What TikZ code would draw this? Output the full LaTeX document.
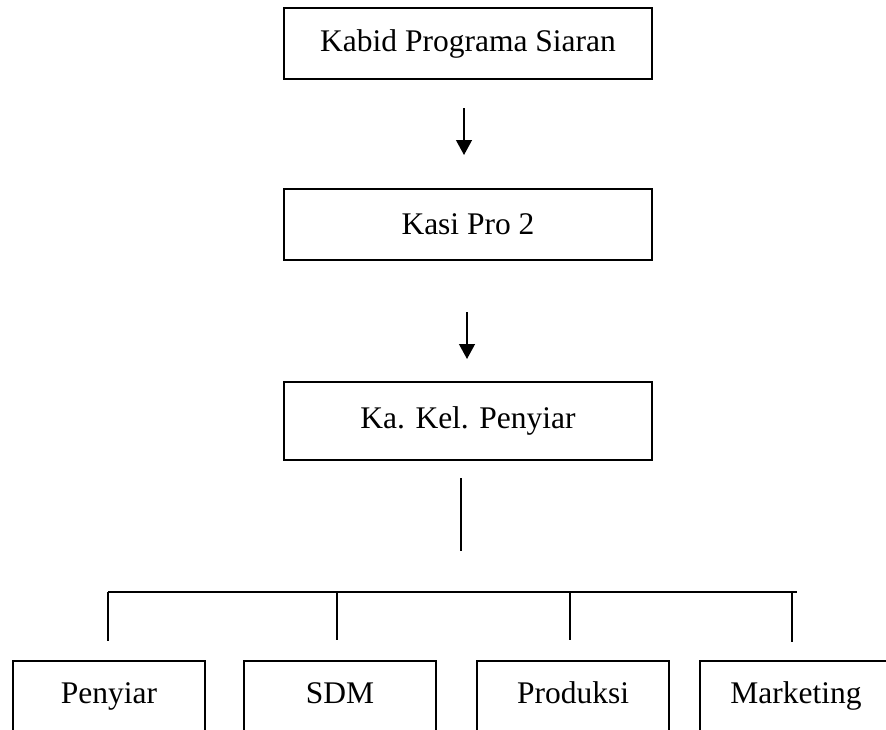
\documentclass[tikz,border=0pt]{standalone}
\usepackage{fontspec}
\setmainfont{Liberation Serif}
\usetikzlibrary{arrows.meta}

\begin{document}
\begin{tikzpicture}[x=0.381pt, y=-0.381pt, line width=0.75pt,
  jabatan/.style={draw, minimum width=140.2pt, minimum height=27.1pt, inner sep=0pt, font=\fontsize{12pt}{14pt}\selectfont},
  bagian/.style={draw, minimum width=73.2pt, inner sep=0pt, text height=16pt, text depth=22pt, anchor=base, font=\fontsize{12pt}{14pt}\selectfont},
  panah/.style={-{Triangle[length=5.7pt, width=6pt]}}]
\useasboundingbox (0,0) rectangle (886,729);
\clip (0,0) rectangle (886,729);
% jabatan atas
\node[jabatan] (kabid) at (468,43.5) {Kabid Programa Siaran};
\node[jabatan] (kasi) at (468,224.5) {Kasi Pro 2};
\node[jabatan, minimum height=29.7pt] (kakel) at (468,421) {Ka. Kel. Penyiar};
% bagian bawah (terpotong di tepi bawah)
\node[bagian] (penyiar) at (109,703) {Penyiar};
\node[bagian] (sdm) at (340,703) {SDM};
\node[bagian] (produksi) at (573,703) {Produksi};
\node[bagian] (marketing) at (796,703) {Marketing};
% titik ujung garis
\coordinate (p1a) at (464,108);
\coordinate (p1b) at (464,155);
\coordinate (p2a) at (467,312);
\coordinate (p2b) at (467,359);
\coordinate (ga) at (461,478);
\coordinate (gb) at (461,551);
\coordinate (bki) at (108,592);
\coordinate (bka) at (797,592);
\draw[panah] (p1a) -- (p1b);
\draw[panah] (p2a) -- (p2b);
\draw (ga) -- (gb);
\draw (bki) -- (bka);
\foreach \x/\y in {108/641, 337/640, 570/640, 792/642}
  \draw (\x,592) -- (\x,\y);
\end{tikzpicture}
\end{document}
